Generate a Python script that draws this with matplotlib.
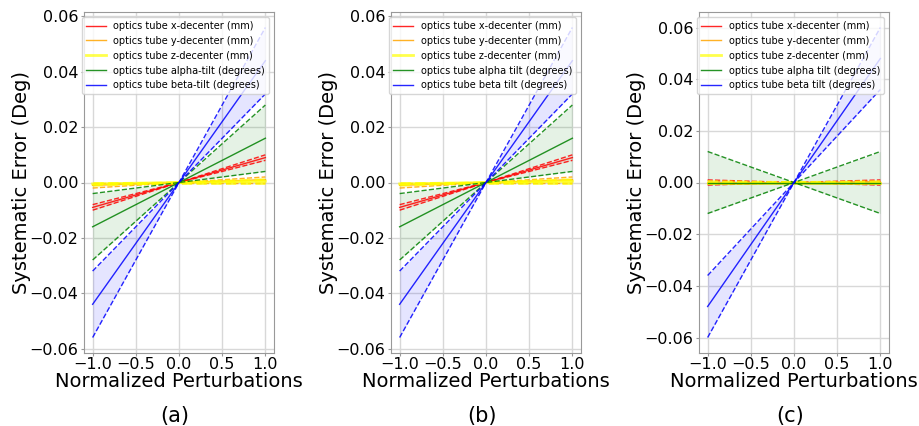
import matplotlib
matplotlib.use('Agg')
import matplotlib.pyplot as plt

# Normalized perturbation positions
x_pert = [-1.0, 0.0, 1.0]

colors = ['red', 'orange', 'yellow', 'green', 'blue']

labels_a = ['optics tube x-decenter (mm)', 'optics tube y-decenter (mm)',
            'optics tube z-decenter (mm)', 'optics tube alpha-tilt (degrees)',
            'optics tube beta-tilt (degrees)']
labels_bc = ['optics tube x-decenter (mm)', 'optics tube y-decenter (mm)',
             'optics tube z-decenter (mm)', 'optics tube alpha tilt (degrees)',
             'optics tube beta tilt (degrees)']

# Panels (a) and (b): mean error and the two band edges at each perturbation
ab_mean = [[-0.009, 0.0, 0.009],
           [-0.001, 0.0, 0.001],
           [-0.0005, 0.0, 0.0005],
           [-0.016, 0.0, 0.016],
           [-0.044, 0.0, 0.044]]
ab_low = [[-0.008, 0.0, 0.008],
          [0.0, 0.0, 0.0],
          [0.0, 0.0, 0.0],
          [-0.004, 0.0, 0.004],
          [-0.032, 0.0, 0.032]]
ab_high = [[-0.010, 0.0, 0.010],
           [-0.002, 0.0, 0.002],
           [-0.001, 0.0, 0.001],
           [-0.028, 0.0, 0.028],
           [-0.056, 0.0, 0.056]]

# Panel (c)
c_mean = [[0.0, 0.0, 0.0],
          [-0.0003, 0.0, 0.0003],
          [0.0, 0.0, 0.0],
          [0.0, 0.0, 0.0],
          [-0.048, 0.0, 0.048]]
c_low = [[0.001, 0.0, -0.001],
         [0.0006, 0.0, -0.0006],
         [0.0003, 0.0, -0.0003],
         [0.012, 0.0, -0.012],
         [-0.036, 0.0, 0.036]]
c_high = [[-0.001, 0.0, 0.001],
          [-0.0006, 0.0, 0.0006],
          [-0.0003, 0.0, 0.0003],
          [-0.012, 0.0, 0.012],
          [-0.060, 0.0, 0.060]]

fig = plt.figure(figsize=(9.2, 4.26), dpi=100)
W, H = 920, 426
ax_left = [84, 391, 699]
ax_width = 190
ax_top, ax_bottom = 12, 353

panels = [(labels_a, ab_mean, ab_low, ab_high, '(a)'),
          (labels_bc, ab_mean, ab_low, ab_high, '(b)'),
          (labels_bc, c_mean, c_low, c_high, '(c)')]

for k, (labels, mean, low, high, tag) in enumerate(panels):
    ax = fig.add_axes([ax_left[k] / W, 1 - ax_bottom / H, ax_width / W,
                       (ax_bottom - ax_top) / H])
    for i in range(5):
        c = colors[i]
        lw = 2.0 if c == 'yellow' else 1.0
        a = 0.7 if c == 'yellow' else 0.85
        ax.plot(x_pert, mean[i], color=c, lw=lw, alpha=a, label=labels[i])
        ax.plot(x_pert, low[i], color=c, lw=lw, ls='--', alpha=a)
        ax.plot(x_pert, high[i], color=c, lw=lw, ls='--', alpha=a)
        ax.fill_between(x_pert, low[i], high[i], color=c, alpha=0.1, lw=0)
    ax.grid(True, color='#d8d8d8', lw=1)
    ax.set_axisbelow(True)
    for s in ax.spines.values():
        s.set_color('#999999')
    ax.tick_params(colors='#999999', labelcolor='black', labelsize=11.5, length=2.5)
    ax.tick_params(axis='y', pad=1.5)
    ax.tick_params(axis='x', pad=0.5)
    ax.set_xticks([-1.0, -0.5, 0.0, 0.5, 1.0])
    ax.set_ylabel('Systematic Error (Deg)', fontsize=14)
    ax.yaxis.set_label_coords(-0.28, 0.5)
    ax.set_xlabel('Normalized Perturbations', fontsize=14, labelpad=0)
    ax.legend(loc='upper center', bbox_to_anchor=(0.482, 0.985), fontsize=7,
              framealpha=0.8, borderaxespad=0)
    fig.text((ax_left[k] + ax_width / 2 - 4) / W, 1 - 416 / H, tag,
             fontsize=15, ha='center', va='center')

fig.savefig('out.png', dpi=100)
